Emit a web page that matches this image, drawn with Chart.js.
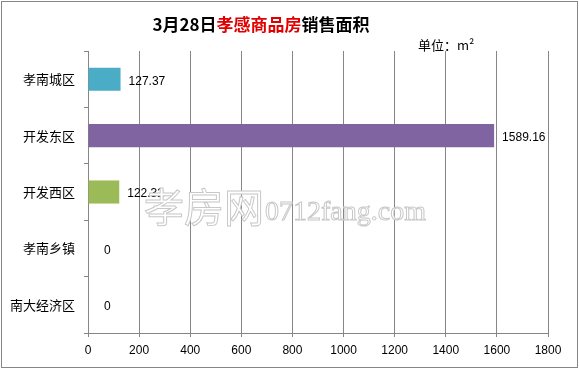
<!DOCTYPE html>
<html>
<head>
<meta charset="utf-8">
<script src="https://cdn.jsdelivr.net/npm/chart.js@4/dist/chart.umd.min.js"></script>
<style>
  html, body { margin: 0; padding: 0; background: #fff; }
  #wrap { width: 579px; height: 369px; }
</style>
</head>
<body>
<div id="wrap"><canvas id="grafico" width="579" height="369"></canvas></div>
<script>
// Datos del gráfico
const areas = ['孝南城区', '开发东区', '开发西区', '孝南乡镇', '南大经济区'];
const superficies = [127.37, 1589.16, 122.32, 0, 0];
const etiquetas = ['127.37', '1589.16', '122.32', '0', '0'];
const colores = ['#4BACC6', '#8064A2', '#9BBB59', '#F79646', '#C0504D'];

const tituloPartes = [
    { texto: '3月28日', color: '#000000' },
    { texto: '孝感商品房', color: '#E00000' },
    { texto: '销售面积', color: '#000000' }
];
const unidad = '单位：m²';

const fuenteCJK = '"Noto Sans CJK SC", "Noto Sans", sans-serif';
const fuenteNum = '"Liberation Sans", Arial, sans-serif';

// Plugin: fondo, marco, título y unidad
const decoracion = {
    id: 'decoracion',
    beforeDraw(chart) {
        const ctx = chart.ctx;
        ctx.save();
        ctx.fillStyle = '#ffffff';
        ctx.fillRect(0, 0, chart.width, chart.height);
        ctx.strokeStyle = '#868686';
        ctx.lineWidth = 1;
        ctx.strokeRect(1.5, 1.5, chart.width - 3, chart.height - 3);

        // título con varios colores
        ctx.font = 'bold 17px ' + fuenteCJK;
        ctx.textBaseline = 'middle';
        ctx.textAlign = 'left';
        const total = tituloPartes.reduce((s, p) => s + ctx.measureText(p.texto).width, 0);
        let x = 261 - total / 2;
        tituloPartes.forEach(p => {
            ctx.fillStyle = p.color;
            ctx.fillText(p.texto, x, 25);
            x += ctx.measureText(p.texto).width;
        });

        ctx.font = '13px ' + fuenteCJK;
        ctx.fillStyle = '#000000';
        ctx.fillText(unidad, 418, 45);
        ctx.restore();
    },
    afterDatasetsDraw(chart) {
        // etiquetas de valores
        const ctx = chart.ctx;
        const meta = chart.getDatasetMeta(0);
        ctx.save();
        ctx.font = '12px ' + fuenteNum;
        ctx.fillStyle = '#000000';
        ctx.textBaseline = 'middle';
        ctx.textAlign = 'left';
        meta.data.forEach((barra, i) => {
            const desplaz = superficies[i] === 0 ? 16 : 8;
            ctx.fillText(etiquetas[i], barra.x + desplaz, barra.y + 2);
        });
        ctx.restore();
    },
    afterDraw(chart) {
        // marca de agua
        const ctx = chart.ctx;
        ctx.save();
        ctx.textBaseline = 'alphabetic';
        ctx.textAlign = 'left';
        ctx.fillStyle = '#ffffff';
        ctx.strokeStyle = '#c8c8c8';
        ctx.lineWidth = 1;
        ctx.font = '40px ' + fuenteCJK;
        ctx.fillText('孝房网', 144, 222);
        ctx.strokeText('孝房网', 144, 222);
        ctx.font = '28px "Liberation Serif", "DejaVu Serif", serif';
        ctx.fillText('0712fang.com', 265, 220);
        ctx.strokeText('0712fang.com', 265, 220);
        ctx.restore();
    }
};

const ctx = document.getElementById('grafico').getContext('2d');
new Chart(ctx, {
    type: 'bar',
    data: {
        labels: areas,
        datasets: [{
            data: superficies,
            backgroundColor: colores,
            borderWidth: 0,
            categoryPercentage: 1,
            barPercentage: 0.41
        }]
    },
    options: {
        indexAxis: 'y',
        responsive: false,
        animation: false,
        devicePixelRatio: 1,
        layout: { padding: { left: 0, top: 51, right: 31, bottom: 0 } },
        plugins: {
            legend: { display: false },
            title: { display: false },
            tooltip: { enabled: false }
        },
        scales: {
            x: {
                min: 0,
                max: 1800,
                ticks: {
                    stepSize: 200,
                    color: '#000000',
                    font: { family: fuenteNum, size: 12 },
                    padding: 6,
                    callback: valor => String(valor)
                },
                grid: {
                    color: '#868686',
                    lineWidth: 1,
                    tickLength: 4
                },
                border: { color: '#868686' },
                afterFit(scale) { scale.height = 36; }
            },
            y: {
                ticks: {
                    color: '#000000',
                    font: { family: fuenteCJK, size: 13 },
                    padding: 9
                },
                grid: {
                    drawOnChartArea: false,
                    color: '#868686',
                    tickLength: 4,
                    offset: true
                },
                border: { color: '#868686' },
                afterFit(scale) { scale.width = 88; }
            }
        }
    },
    plugins: [decoracion]
});
</script>
</body>
</html>
